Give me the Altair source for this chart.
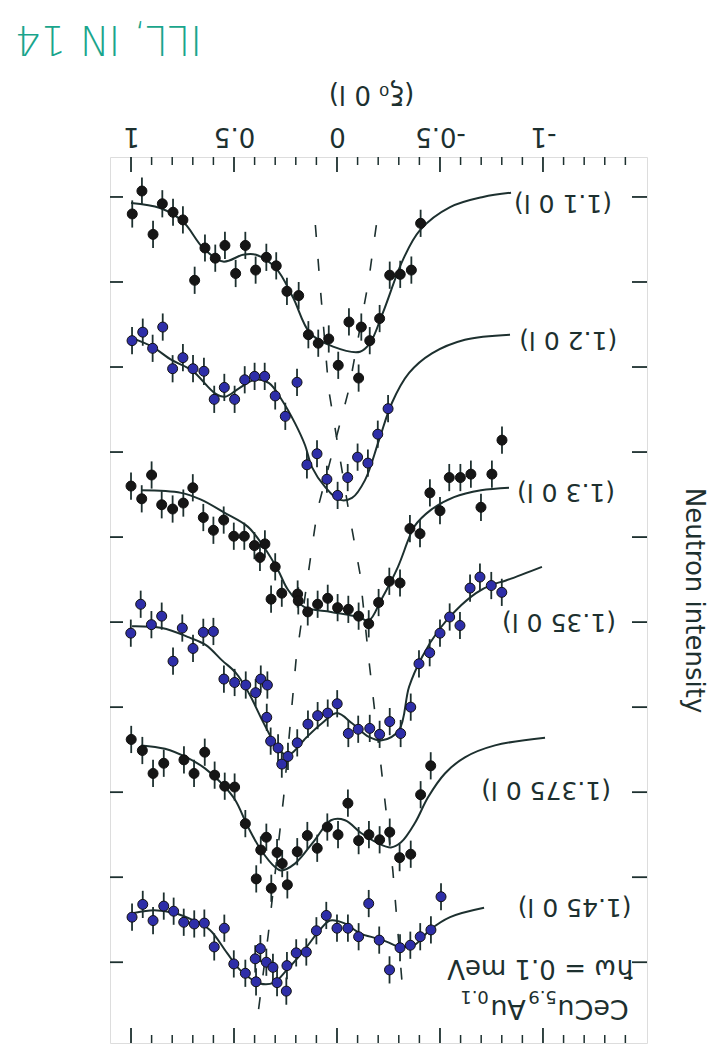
import altair as alt
import pandas as pd

INK = "#1d302f"
FONT = "DejaVu Sans"

# ---------------- data ----------------
scan_names = ["(1.1 0 l)", "(1.2 0 l)", "(1.3 0 l)", "(1.35 0 l)", "(1.375 0 l)", "(1.45 0 l)"]
scan_kind = ["black", "blue", "black", "blue", "black", "blue"]
scan_err = [0.16, 0.16, 0.16, 0.16, 0.16, 0.16]
label_xi = [-1.335, -1.36, -1.35, -1.354, -1.33, -1.43]
label_I = [1.07, 2.68, 4.47, 6.0, 7.98, 9.35]

xi1 = [0.994, 0.947, 0.893, 0.848, 0.796, 0.748, 0.691, 0.641, 0.591, 0.544, 0.492, 0.445, 0.395, 0.343, 0.295,
       0.243, 0.186, 0.139, 0.091, 0.040, -0.006, -0.058, -0.105, -0.118, -0.159, -0.207, -0.256, -0.307, -0.361, -0.406]
I1 = [1.20, 0.93, 1.44, 1.08, 1.18, 1.27, 1.98, 1.60, 1.72, 1.57, 1.90, 1.57, 1.86, 1.71, 1.81,
      2.11, 2.16, 2.62, 2.72, 2.67, 2.98, 2.47, 3.13, 2.53, 2.69, 2.43, 1.92, 1.91, 1.86, 1.31]
fx1 = [1.0, 0.859, 0.748, 0.650, 0.553, 0.456, 0.393, 0.296, 0.214, 0.131, 0.019, -0.112, -0.160, -0.223, -0.320,
       -0.403, -0.549, -0.709, -0.845]
fI1 = [1.07, 1.13, 1.29, 1.60, 1.76, 1.68, 1.68, 1.84, 2.18, 2.60, 2.76, 2.82, 2.72, 2.36, 1.74, 1.39, 1.12, 1.00, 0.95]

xi2 = [0.995, 0.943, 0.895, 0.846, 0.798, 0.748, 0.699, 0.646, 0.596, 0.547, 0.497, 0.448, 0.400, 0.351, 0.300,
       0.251, 0.194, 0.146, 0.097, 0.049, -0.003, -0.052, -0.100, -0.150, -0.198, -0.248]
I2 = [2.69, 2.59, 2.78, 2.53, 3.02, 2.89, 3.02, 3.05, 3.38, 3.24, 3.38, 3.15, 3.11, 3.11, 3.34,
      3.58, 3.18, 4.15, 4.02, 4.32, 4.51, 4.30, 4.06, 4.13, 3.79, 3.49]
fx2 = [0.995, 0.898, 0.801, 0.704, 0.592, 0.544, 0.476, 0.398, 0.330, 0.267, 0.204, 0.155, 0.121, 0.058, -0.010,
       -0.073, -0.136, -0.204, -0.267, -0.350, -0.461, -0.621, -0.840]
fI2 = [2.66, 2.76, 2.92, 3.04, 3.31, 3.35, 3.25, 3.15, 3.19, 3.39, 3.66, 3.92, 4.18, 4.41, 4.56,
       4.54, 4.33, 3.86, 3.42, 3.07, 2.84, 2.68, 2.62]

xi3 = [1.000, 0.948, 0.900, 0.851, 0.798, 0.746, 0.700, 0.649, 0.600, 0.550, 0.501, 0.450, 0.401, 0.374, 0.350,
       0.320, 0.300, 0.268, 0.191, 0.188, 0.142, 0.094, 0.045, -0.003, -0.055, -0.105, -0.154, -0.202, -0.254,
       -0.306, -0.354, -0.403, -0.451, -0.500, -0.545, -0.599, -0.650, -0.699, -0.752, -0.801]
I3 = [4.40, 4.55, 4.27, 4.62, 4.67, 4.60, 4.42, 4.77, 4.92, 4.80, 4.99, 4.99, 5.10, 5.24, 5.08,
      5.73, 5.35, 5.66, 5.67, 5.75, 5.88, 5.79, 5.72, 5.83, 5.85, 5.93, 6.02, 5.77, 5.52,
      5.54, 4.90, 4.96, 4.48, 4.69, 4.30, 4.30, 4.26, 4.65, 4.26, 3.86]
fx3 = [0.951, 0.757, 0.660, 0.549, 0.432, 0.354, 0.286, 0.238, 0.160, 0.029, -0.102, -0.155, -0.214, -0.296,
       -0.345, -0.374, -0.456, -0.568, -0.699, -0.835]
fI3 = [4.45, 4.48, 4.56, 4.71, 4.88, 5.12, 5.39, 5.62, 5.82, 5.88, 5.94, 5.98, 5.74, 5.35,
       5.04, 4.88, 4.68, 4.53, 4.45, 4.42]

xi4 = [1.001, 0.953, 0.901, 0.851, 0.796, 0.751, 0.699, 0.649, 0.600, 0.549, 0.497, 0.443, 0.395, 0.370, 0.338,
       0.341, 0.322, 0.286, 0.268, 0.238, 0.193, 0.141, 0.094, 0.045, -0.001, -0.055, -0.103, -0.159, -0.207,
       -0.256, -0.309, -0.358, -0.398, -0.450, -0.500, -0.547, -0.597, -0.646, -0.694, -0.749, -0.800]
I4 = [6.13, 5.79, 6.03, 5.93, 6.46, 6.07, 6.31, 6.12, 6.11, 6.67, 6.71, 6.74, 6.83, 6.67, 6.74,
      7.12, 7.40, 7.48, 7.67, 7.58, 7.42, 7.20, 7.10, 7.07, 6.96, 7.31, 7.26, 7.25, 7.32,
      7.17, 7.31, 7.00, 6.49, 6.36, 6.13, 5.94, 6.04, 5.60, 5.47, 5.57, 5.65]
fx4 = [0.995, 0.850, 0.718, 0.636, 0.558, 0.490, 0.427, 0.364, 0.330, 0.282, 0.233, 0.150, 0.073, 0.000, -0.073,
       -0.155, -0.218, -0.301, -0.350, -0.413, -0.495, -0.578, -0.675, -0.752, -0.820, -0.995]
fI4 = [6.05, 6.07, 6.18, 6.27, 6.45, 6.60, 6.84, 7.15, 7.31, 7.51, 7.56, 7.36, 7.19, 7.07, 7.19,
       7.35, 7.39, 7.27, 6.76, 6.41, 6.09, 5.86, 5.66, 5.56, 5.51, 5.35]

xi5 = [0.999, 0.945, 0.893, 0.841, 0.743, 0.694, 0.642, 0.594, 0.545, 0.497, 0.445, 0.392, 0.370, 0.343, 0.319,
       0.291, 0.266, 0.241, 0.193, 0.144, 0.096, 0.047, -0.005, -0.053, -0.105, -0.155, -0.207, -0.256, -0.304,
       -0.358, -0.406, -0.455]
I5 = [7.38, 7.51, 7.78, 7.66, 7.62, 7.78, 7.53, 7.80, 7.93, 7.94, 8.37, 9.02, 8.68, 8.53, 9.13,
      8.71, 8.84, 9.09, 8.70, 8.51, 8.66, 8.41, 8.50, 8.13, 8.57, 8.50, 8.56, 8.47, 8.77,
      8.73, 8.03, 7.69]
fx5 = [0.951, 0.835, 0.723, 0.641, 0.563, 0.495, 0.432, 0.369, 0.301, 0.272, 0.204, 0.107, 0.029, -0.039, -0.117,
       -0.199, -0.262, -0.311, -0.379, -0.442, -0.524, -0.621, -0.767, -1.010]
fI5 = [7.45, 7.49, 7.60, 7.72, 7.89, 8.09, 8.41, 8.68, 8.88, 8.92, 8.84, 8.56, 8.33, 8.33, 8.48,
       8.60, 8.65, 8.59, 8.36, 8.06, 7.78, 7.59, 7.45, 7.36]

xi6 = [0.995, 0.943, 0.893, 0.841, 0.793, 0.744, 0.693, 0.644, 0.596, 0.547, 0.501, 0.445, 0.397, 0.393, 0.372,
       0.343, 0.311, 0.291, 0.246, 0.243, 0.198, 0.149, 0.100, 0.052, 0.000, -0.053, -0.105, -0.154, -0.205,
       -0.255, -0.306, -0.356, -0.404, -0.456, -0.505]
I6 = [9.47, 9.32, 9.51, 9.34, 9.40, 9.53, 9.55, 9.54, 9.82, 9.60, 10.02, 10.13, 9.96, 10.23, 9.84,
      10.00, 10.06, 10.24, 10.34, 10.04, 9.89, 9.88, 9.63, 9.45, 9.60, 9.60, 9.70, 9.31, 9.74,
      10.09, 9.83, 9.80, 9.70, 9.62, 9.23]
fx6 = [0.985, 0.888, 0.791, 0.694, 0.617, 0.534, 0.471, 0.374, 0.306, 0.243, 0.160, 0.083, 0.034, -0.034, -0.112,
       -0.194, -0.243, -0.306, -0.374, -0.451, -0.549, -0.714]
fI6 = [9.42, 9.39, 9.42, 9.51, 9.62, 9.89, 10.09, 10.25, 10.24, 10.09, 9.86, 9.62, 9.51, 9.54, 9.66,
       9.72, 9.76, 9.82, 9.80, 9.62, 9.47, 9.36]

# dashed guide lines (peak positions)
dashA_xi = [0.105, 0.084, 0.040, -0.056, -0.111, -0.155, -0.213, -0.271, -0.323]
dashA_I = [1.33, 1.98, 3.27, 4.68, 5.42, 6.45, 7.68, 8.92, 10.45]
dashB_xi = [-0.191, -0.154, -0.057, 0.095, 0.142, 0.199, 0.259, 0.334, 0.381]
dashB_I = [1.33, 1.98, 3.27, 4.68, 5.47, 6.45, 8.06, 9.68, 10.56]

# axis ticks
x_major = [1.0, 0.5, 0.0, -0.5, -1.0]
x_minor = [0.9, 0.8, 0.7, 0.6, 0.4, 0.3, 0.2, 0.1, -0.1, -0.2, -0.3, -0.4,
           -0.6, -0.7, -0.8, -0.9, -1.1, -1.2, -1.3, -1.4]
y_ticks = [1, 2, 3, 4, 5, 6, 7, 8, 9, 10]

# sample annotation
sample_xi = [-1.417]
sample_I = [10.54]
energy_xi = [-1.442]
energy_I = [10.07]
energy_text = ["ħω = 0.1 meV"]
note_text = ["ILL, IN 14"]

# ---------------- tables ----------------
pt_x = [xi1, xi2, xi3, xi4, xi5, xi6]
pt_y = [I1, I2, I3, I4, I5, I6]
fit_x = [fx1, fx2, fx3, fx4, fx5, fx6]
fit_y = [fI1, fI2, fI3, fI4, fI5, fI6]

rows = []
for k in range(6):
    for a, b in zip(pt_x[k], pt_y[k]):
        rows.append(dict(scan=scan_names[k], kind=scan_kind[k], xi=a, I=b,
                         lo=b - scan_err[k], hi=b + scan_err[k]))
points = pd.DataFrame(rows)

frows = []
for k in range(6):
    for a, b in zip(fit_x[k], fit_y[k]):
        frows.append(dict(scan=scan_names[k], xi=a, I=b))
fits = pd.DataFrame(frows)

drows = [dict(line="A", xi=a, I=b) for a, b in zip(dashA_xi, dashA_I)] + \
        [dict(line="B", xi=a, I=b) for a, b in zip(dashB_xi, dashB_I)]
dashes = pd.DataFrame(drows)

labels = pd.DataFrame(dict(text=scan_names, xi=label_xi, I=label_I))
xmaj = pd.DataFrame(dict(v=x_major))
xmin = pd.DataFrame(dict(v=x_minor))
ytk = pd.DataFrame(dict(v=y_ticks))
sample = pd.DataFrame(dict(xi=sample_xi, I=sample_I))
energy = pd.DataFrame(dict(xi=energy_xi, I=energy_I, text=energy_text))
note = pd.DataFrame(dict(text=note_text))

W, H = 537, 886

xs = alt.Scale(domain=[-1.505, 1.102], reverse=True, nice=False, zero=False)
ys = alt.Scale(domain=[0.53, 10.95], reverse=True, nice=False, zero=False)

xaxis = alt.Axis(orient="top", values=x_major, ticks=False, tickSize=0, domain=False, grid=False,
                 labelAngle=180, labelAlign="center", labelBaseline="middle", labelPadding=22,
                 labelFont=FONT, labelFontSize=26, labelColor=INK, labelExpr="'' + datum.value",
                 labelFlush=False, labelOverlap=False,
                 title="(ξ₀ 0 l)", titleAngle=180, titleX=261, titleY=-64, titleAlign="center",
                 titleBaseline="middle", titleFont=FONT, titleFontSize=26, titleFontWeight="normal",
                 titleColor=INK)
yaxis = alt.Axis(orient="right", labels=False, ticks=False, tickSize=0, domain=False, grid=False,
                 title="Neutron intensity", titleAngle=90, titleX=46, titleY=443, titleAlign="center",
                 titleBaseline="middle", titleFont=FONT, titleFontSize=26, titleFontWeight="normal",
                 titleColor=INK)


def X(f):
    return alt.X(f, type="quantitative", scale=xs, axis=xaxis)


def Y(f):
    return alt.Y(f, type="quantitative", scale=ys, axis=yaxis)


dash_layer = alt.Chart(dashes).mark_line(strokeDash=[12, 22], strokeWidth=1.6, color=INK).encode(
    x=X("xi"), y=Y("I"), detail="line:N", order="I:Q")

fit_layer = alt.Chart(fits).mark_line(strokeWidth=2, color=INK, interpolate="catmull-rom").encode(
    x=X("xi"), y=Y("I"), detail="scan:N")

err_layer = alt.Chart(points).mark_rule(strokeWidth=1.8, color=INK).encode(
    x=X("xi"), y=Y("lo"), y2="hi")

pt_layer = alt.Chart(points).mark_point(shape="circle", filled=True, size=100, stroke="#111111",
                                        strokeWidth=1, opacity=1).encode(
    x=X("xi"), y=Y("I"),
    fill=alt.Fill("kind:N", scale=alt.Scale(domain=["black", "blue"], range=["#161616", "#2e2ea8"]),
                  legend=None))

top_major = alt.Chart(xmaj).mark_rule(strokeWidth=1.8, color=INK).encode(
    x=X("v"), y=alt.value(0), y2=alt.value(15))
top_minor = alt.Chart(xmin).mark_rule(strokeWidth=1.5, color=INK).encode(
    x=X("v"), y=alt.value(0), y2=alt.value(8))
bot_major = alt.Chart(xmaj).mark_rule(strokeWidth=1.8, color=INK).encode(
    x=X("v"), y=alt.value(H), y2=alt.value(H - 15))
bot_minor = alt.Chart(xmin).mark_rule(strokeWidth=1.5, color=INK).encode(
    x=X("v"), y=alt.value(H), y2=alt.value(H - 8))
left_ticks = alt.Chart(ytk).mark_rule(strokeWidth=1.8, color=INK).encode(
    y=Y("v"), x=alt.value(0), x2=alt.value(13))
right_ticks = alt.Chart(ytk).mark_rule(strokeWidth=1.8, color=INK).encode(
    y=Y("v"), x=alt.value(W), x2=alt.value(W - 15))

label_layer = alt.Chart(labels).mark_text(angle=180, align="left", baseline="middle", font=FONT,
                                           fontSize=25, color=INK).encode(
    x=X("xi"), y=Y("I"), text="text:N")


def piece(txt, size, dx, dy):
    return alt.Chart(sample).mark_text(angle=180, align="left", baseline="middle", font=FONT,
                                       fontSize=size, color=INK, dx=dx, dy=dy, text=txt).encode(
        x=X("xi"), y=Y("I"))


sample_layers = [piece("CeCu", 27, 0, 0), piece("5.9", 18, 72, 12),
                 piece("Au", 27, 103, 0), piece("0.1", 18, 140, 12)]

energy_layer = alt.Chart(energy).mark_text(angle=180, align="left", baseline="middle", font=FONT,
                                           fontSize=26, color=INK).encode(
    x=X("xi"), y=Y("I"), text="text:N")

note_layer = alt.Chart(note).mark_text(angle=180, align="left", baseline="middle", font=FONT,
                                       fontSize=40, fontWeight=300, color="#1aa58c").encode(
    x=alt.value(92), y=alt.value(-119), text="text:N")

chart = alt.layer(
    dash_layer, fit_layer, err_layer, pt_layer,
    top_major, top_minor, bot_major, bot_minor, left_ticks, right_ticks,
    label_layer, *sample_layers, energy_layer, note_layer
).properties(
    width=W, height=H,
    padding={"left": 102, "top": 149, "right": 64, "bottom": 2},
    autosize=alt.AutoSizeParams(type="none"),
).configure_view(
    stroke=INK, strokeWidth=2
).configure(background="white")

chart.save("out.html", embed_options={"renderer": "svg", "actions": False})
